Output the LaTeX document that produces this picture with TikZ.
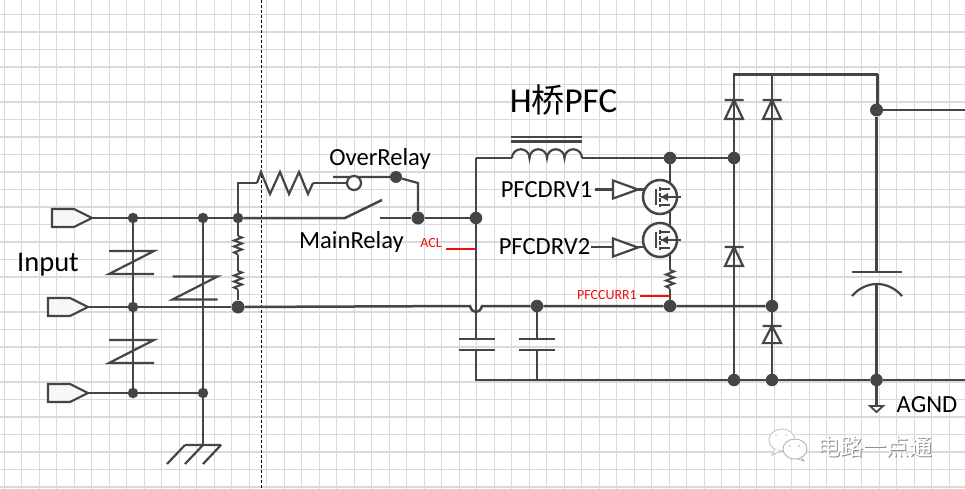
\documentclass[tikz,border=0pt]{standalone}
\usepackage{fontspec}
\setmainfont{Carlito}
\newfontfamily\cjkf{Noto Sans CJK SC}
\usetikzlibrary{arrows.meta}
\definecolor{wirec}{HTML}{454545}
\definecolor{gridc}{HTML}{DADADA}
\definecolor{redc}{HTML}{F01010}
\tikzset{
  wire/.style={draw=wirec,line width=2.5pt,line join=miter},
  thinw/.style={draw=wirec,line width=2.2pt},
  dot/.style={circle,fill=wirec,inner sep=0pt,minimum size=10.5pt},
  bigdot/.style={circle,fill=wirec,inner sep=0pt,minimum size=13pt},
  lbl/.style={inner sep=0pt,text=black,font=\fontsize{24.6}{26}\selectfont},
  redlbl/.style={inner sep=0pt,text=redc,font=\fontsize{14}{15}\selectfont},
  redw/.style={draw=redc,line width=2.2pt},
  port/.pic={\draw[thinw,line width=2.2pt,fill=gray!6] (0,-9) -- (22,-9) -- (40,0) -- (22,9) -- (0,9) -- cycle;},
  smallres/.pic={\draw[thinw,line width=2pt] (0,0) -- (4,1.5) -- (-4,4.5) -- (4,7.5) -- (-4,10.5) -- (4,13.5) -- (-4,16.5) -- (0,18.5);},
  varistor/.pic={\draw[thinw] (-22.5,-11.5) -- (22.5,-11.5) -- (-22.5,11.5) -- (22.5,11.5);},
  diode/.pic={\draw[thinw] (-9.5,0) -- (9.5,0) (0,0) -- (9,19) -- (-9,19) -- cycle;},
  capa/.pic={\draw[thinw] (-18,0) -- (18,0) (-18,11) -- (18,11);},
  buffer/.pic={\draw[thinw,line width=2.2pt,fill=white] (0,-9) -- (25,0) -- (0,9) -- cycle;},
  mosfet/.pic={
    \draw[wire,fill=gray!3] (0,0) circle (17);
    \draw[thinw] (-4,-8) -- (-4,8);
    \draw[thinw,line width=1.6pt] (0,-8) -- (10,-8) (0,8) -- (10,8) (10,0) -- (21,0);
    \draw[draw=wirec,line width=2.6pt,dash pattern=on 4pt off 1.5pt] (0,-10) -- (0,10);
    \fill[wirec] (1,0) -- (8,-4) -- (8,4) -- cycle;
    \draw[thinw,line width=1.6pt] (1,0) -- (10,0);
  },
}
\begin{document}
\begin{tikzpicture}[x=1pt,y=-1pt]
\useasboundingbox (0,0) rectangle (965,489);
\fill[white] (0,0) rectangle (965,489);
\begin{scope}
\clip (0,0) rectangle (965,489);
% grid
\foreach \k in {0,...,54} {\draw[gridc,line width=1.05pt] ({4.2+17.5*\k},0) -- ({4.2+17.5*\k},489);}
\foreach \k in {0,...,27} {\draw[gridc,line width=1.05pt] (0,{14.5+17.5*\k}) -- (965,{14.5+17.5*\k});}
\draw[black,line width=1pt,dash pattern=on 3pt off 2pt] (261,0) -- (261,489);

% ---- coordinates
\coordinate (pA) at (91,218);
\coordinate (pB) at (88,307);
\coordinate (pC) at (88,393);
\coordinate (gnd) at (203,445);
\coordinate (rIn) at (238,183);
\coordinate (rA) at (257,183);
\coordinate (rB) at (313,183);
\coordinate (mA) at (345,218);
\coordinate (mB) at (382,200);
\coordinate (mC) at (380,218);
\coordinate (cA) at (333,177);
\coordinate (cB) at (418,183);
\coordinate (tl) at (476,158);
\coordinate (lA) at (512,158);
\coordinate (lB) at (582,158);
\coordinate (hopL) at (470,306);
\coordinate (hopR) at (482,306);
\coordinate (blc) at (476,380);
\coordinate (tA) at (734,74.5);
\coordinate (tB) at (772,74.5);
\coordinate (tC) at (877.5,74.5);
\coordinate (outT) at (965,110);
\coordinate (outB) at (965,380);
\coordinate (agnd) at (876.5,406);
\coordinate (b1l) at (595,189.5);
\coordinate (b1r) at (613,189.5);
\coordinate (b2l) at (591,247);
\coordinate (b2r) at (613,247);
\coordinate (g1a) at (638,189.5);
\coordinate (g1b) at (656,189.5);
\coordinate (g2a) at (638,247);
\coordinate (g2b) at (656,247);
\coordinate (aclA) at (446,249);
\coordinate (aclB) at (476,249);
\coordinate (curA) at (640,296);
\coordinate (curB) at (670,296);

% ---- junctions
\node[dot] (j1) at (133,218) {};
\node[dot] (j2) at (203,218) {};
\node[dot] (j3) at (238,218) {};
\node[dot] (j4) at (133,307) {};
\node[bigdot] (j5) at (238,307) {};
\node[dot] (j6) at (133,393) {};
\node[dot] (j7) at (203,393) {};
\node[bigdot,minimum size=12pt] (j8) at (396,177) {};
\node[bigdot] (j9) at (418,218) {};
\node[bigdot,minimum size=12.5pt] (j10) at (476,218) {};
\node[bigdot,minimum size=12.5pt] (j11) at (670,158) {};
\node[bigdot,minimum size=12.5pt] (j12) at (734,158) {};
\node[bigdot,minimum size=12.5pt] (j13) at (537,306) {};
\node[bigdot,minimum size=12.5pt] (j14) at (670,306) {};
\node[bigdot,minimum size=12.5pt] (j15) at (772,306) {};
\node[bigdot,minimum size=12.5pt] (j16) at (734,380) {};
\node[bigdot,minimum size=12.5pt] (j17) at (772,380) {};
\node[bigdot,minimum size=12.5pt] (j18) at (876.5,380) {};
\node[bigdot,minimum size=13pt] (j19) at (876.5,110) {};

% ---- wires
\draw[wire] (pA) -- (j1) -- (j2) -- (j3);
\draw[wire] (pB) -- (j4) -- (j5);
\draw[wire] (pC) -- (j6) -- (j7);
\draw[wire] (j1) -- (j4) -- (j6);
\draw[wire] (j2) -- (j7) -- (gnd);
\draw[thinw] (185,445) -- (221,445) (185,445) -- (167,464) (203,445) -- (185,464) (221,445) -- (203,464);
\draw[wire] (j3) -- (238,236) (238,254.5) -- (238,271) (238,289.5) -- (j5);
\draw[wire] (j3) -- (rIn) -- (rA);
\draw[thinw] (rA) -- (261,172) -- (270,194) -- (280,172) -- (289,194) -- (299,172) -- (308,194) -- (rB);
\draw[wire] (rB) -- (354,183);
\draw[thinw] (cA) -- (j8) -- (cB) -- (j9);
\draw[wire] (j3) -- (mA) -- (mB);
\draw[wire] (mC) -- (j9) -- (j10);
\draw[wire] (tl) -- (j10) -- (476,339);
\draw[wire] (476,350) -- (blc) -- (j16) -- (j17) -- (j18) -- (outB);
\draw[wire] (tl) -- (lA);
\draw[thinw] (lA) arc[start angle=180,end angle=360,radius=8.75] arc[start angle=180,end angle=360,radius=8.75] arc[start angle=180,end angle=360,radius=8.75] arc[start angle=180,end angle=360,radius=8.75];
\draw[thinw] (511,137) -- (582,137) (511,141.5) -- (582,141.5);
\draw[wire] (lB) -- (j11) -- (j12);
\draw[wire] (j5) -- (hopL) .. controls (472,314) and (480,314) .. (hopR) -- (j13) -- (j14) -- (j15);
\draw[wire] (j13) -- (537,339.5);
\draw[wire] (537,350) -- (537,380);
\draw[wire] (j11) -- (670,270) (670,288.5) -- (j14);
\draw[wire] (tC) -- (tA) -- (j12) -- (j16);
\draw[wire] (tB) -- (j15) -- (j17);
\draw[wire] (tC) -- (877.5,105);
\draw[wire] (j19) -- (876.5,272);
\draw[wire] (876.5,284) -- (j18) -- (agnd);
\draw[wire] (j19) -- (outT);
\draw[thinw,fill=white,line width=1.8pt] (870,406) -- (883,406) -- (876.5,412) -- cycle;
\draw[wire] (b1l) -- (b1r);
\draw[wire] (b2l) -- (b2r);
\draw[wire] (g1a) -- (g1b);
\draw[wire] (g2a) -- (g2b);

% ---- components
\path (52,218) pic {port};
\path (48,307) pic {port};
\path (48,393) pic {port};
\path (131.5,262.5) pic {varistor};
\path (195,288) pic {varistor};
\path (131.5,351.5) pic {varistor};
\path (238,236) pic {smallres};
\path (238,271) pic {smallres};
\path (670,270) pic {smallres};
\draw[thinw,fill=white] (354,183) circle (7);
\path (613,189.5) pic {buffer};
\path (613,247.5) pic {buffer};
\path (660,197) pic {mosfet};
\path (660,240) pic {mosfet};
\path (734,100) pic {diode};
\path (772,100) pic {diode};
\path (734,247) pic {diode};
\path (772,326) pic[yscale=0.9] {diode};
\path (477,339) pic {capa};
\path (537,339) pic {capa};
\draw[thinw] (852,272) -- (902,272);
\draw[thinw] (852,296) .. controls (866,280) and (888,280) .. (902,296);

% ---- red labels
\draw[redw] (aclA) -- (aclB);
\draw[redw] (curA) -- (curB);
\node[redlbl,anchor=center] (acl) at (431,243) {ACL};
\node[redlbl,anchor=east] (cur) at (637,295) {PFCCURR1};

% ---- labels
\node[lbl,font=\fontsize{28.5}{30}\selectfont] (input) at (48,265) {Input};
\node[lbl] (over) at (380,159) {OverRelay};
\node[lbl] (main) at (351.5,242) {MainRelay};
\node[lbl] (drv1) at (546.5,190) {PFCDRV1};
\node[lbl] (drv2) at (544.5,247) {PFCDRV2};
\node[lbl] (agndt) at (927,405) {AGND};
\node[lbl,font=\fontsize{35}{36}\selectfont] (title) at (563.5,100) {H{\cjkf\fontsize{33}{34}\selectfont 桥}PFC};

% ---- watermark
\draw[gray!45,fill=white,line width=0.9pt] (782,440) ellipse (13 and 11);
\draw[gray!45,fill=white,line width=0.9pt] (775,449) -- (772,455) -- (780,451);
\draw[gray!60,fill=white,line width=0.9pt] (795,449) ellipse (12 and 10);
\draw[gray!60,fill=white,line width=0.9pt] (798,459) -- (804,461) -- (802,458);
\fill[gray!70] (790,446) circle (0.9) (799,446) circle (0.9);
\fill[gray!50] (776,435) circle (0.9) (786,435) circle (0.9);
\node[inner sep=0pt,text=gray!90,font=\cjkf\fontsize{23}{25}\selectfont] (wmS) at (875.6,447.6) {电路一点通};
\node[inner sep=0pt,text=white,font=\cjkf\fontsize{23}{25}\selectfont] (wm) at (875,447) {电路一点通};
\end{scope}
\end{tikzpicture}
\end{document}
